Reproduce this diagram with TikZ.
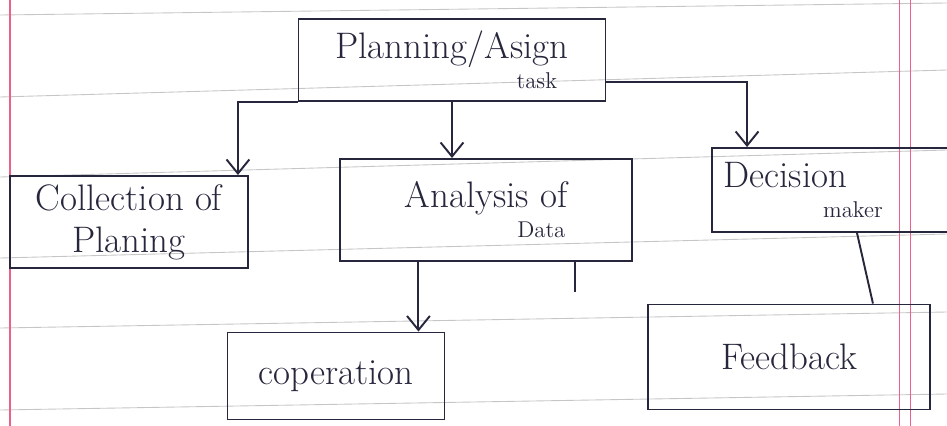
\documentclass[tikz,border=0pt]{standalone}
\usepackage{tikz}
\usetikzlibrary{arrows.meta}
\definecolor{ink}{RGB}{38,38,60}
\definecolor{margin}{RGB}{236,96,138}
\newcommand{\subtxt}[1]{{\fontsize{13}{13}\selectfont #1}}

\begin{document}
\begin{tikzpicture}[x=0.02cm,y=-0.02cm,->,>={Straight Barb[length=8pt,width=13pt]},
                    line width=1.1pt, color=ink]
  \tikzstyle{box}=[draw=ink,rectangle,inner sep=2pt,align=center,
                   font=\fontsize{21}{24}\selectfont]
  \tikzstyle{rule}=[-,line width=0.5pt,gray!45]

  \clip (0,0) rectangle (947,426);

  % notebook paper
  \foreach \yl/\yr in {15/3, 97/70, 177/150, 258/234, 328/312, 410/394}
    \draw[rule] (0,\yl) -- (947,\yr);
  \draw[-,line width=0.7pt,margin] (10,0) -- (10,426);
  \draw[-,line width=0.5pt,margin] (899,0) -- (899,426) (910,0) -- (910,426);

  \node[box, minimum width=6.14cm, minimum height=1.64cm] (plan) at (452,60)
       {Planning/Asign\\[-7pt]\hspace*{4.6em}\subtxt{task}};
  \node[box, minimum width=4.76cm, minimum height=1.84cm] (coll) at (129,222)
       {Collection of\\Planing};
  \node[box, minimum width=5.84cm, minimum height=2.04cm] (anal) at (486,210)
       {Analysis of\\[-7pt]\hspace*{3em}\subtxt{Data}};
  \node[box, minimum width=4.96cm, minimum height=1.68cm, align=left,
        text width=4.5cm] (deci) at (836,190)
       {Decision\\[-7pt]\hspace*{2.7em}\subtxt{maker}};
  \node[box, minimum width=4.34cm, minimum height=1.74cm] (coop) at (336,376)
       {coperation};
  \node[box, minimum width=5.64cm, minimum height=2.1cm] (feed) at (789,357)
       {Feedback};

  \coordinate (tail) at (575,292);

  \draw (plan.south west) -| ([xshift=-0.22cm]coll.north east);
  \draw (plan.south) -- (plan.south |- anal.north);
  \draw ([yshift=0.4cm]plan.south east) -| ([xshift=0.72cm]deci.north west);
  \draw ([xshift=-0.54cm]coop.north east |- anal.south) -- ([xshift=-0.54cm]coop.north east);
  \draw[-] (tail |- anal.south) -- (tail);
  \draw[-] ([xshift=0.42cm]deci.south) -- ([xshift=-1.16cm]feed.north east);
\end{tikzpicture}
\end{document}
